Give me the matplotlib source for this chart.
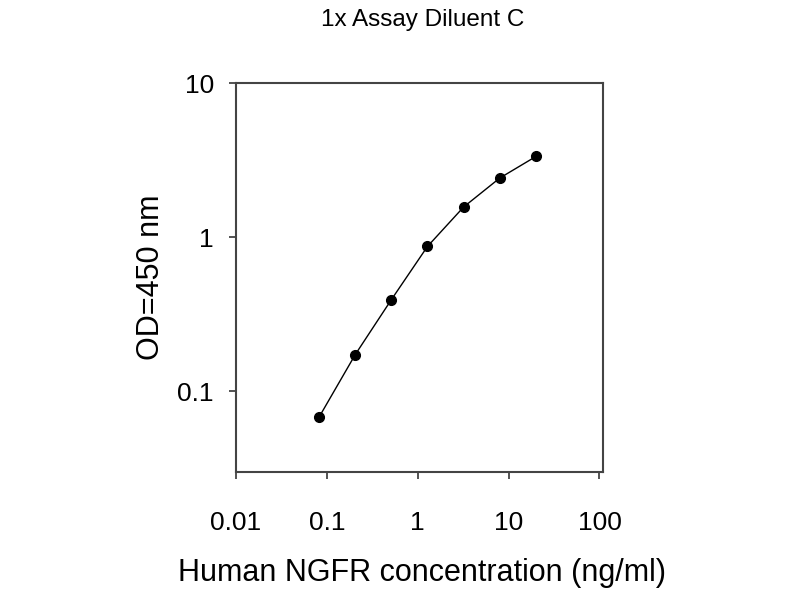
#!/usr/bin/env python3
"""Standard curve: OD450 vs human NGFR concentration, log-log."""

import matplotlib
matplotlib.use("Agg")
import matplotlib.pyplot as plt
from matplotlib.ticker import FixedLocator, FixedFormatter, NullLocator

plt.rcParams["font.family"] = ["Liberation Sans", "DejaVu Sans"]

# -----------------------------------------------------------------------------
# DATA
# -----------------------------------------------------------------------------
concentration = [0.082, 0.205, 0.512, 1.28, 3.2, 8.0, 20.0]   # ng/ml
od450 = [0.068, 0.173, 0.393, 0.871, 1.57, 2.42, 3.34]

x_ticks = [0.01, 0.1, 1, 10, 100]
x_tick_labels = ["0.01", "0.1", "1", "10", "100"]
y_ticks = [0.1, 1, 10]
y_tick_labels = ["0.1", "1", "10"]

TITLE = "1x Assay Diluent C"
X_LABEL = "Human NGFR concentration (ng/ml)"
Y_LABEL = "OD=450 nm"

SPINE_COLOR = "#444444"


def main() -> None:
    fig = plt.figure(figsize=(8, 6), dpi=100)
    ax = fig.add_axes([0.295, 0.2133, 0.459, 0.6483])

    ax.plot(concentration, od450, color="black", linewidth=1.0,
            marker="o", markersize=7, markerfacecolor="black",
            markeredgecolor="black")

    ax.set_xscale("log")
    ax.set_yscale("log")
    ax.set_xlim(0.01, 110)
    ax.set_ylim(0.03, 10)

    ax.xaxis.set_major_locator(FixedLocator(x_ticks))
    ax.xaxis.set_major_formatter(FixedFormatter(x_tick_labels))
    ax.yaxis.set_major_locator(FixedLocator(y_ticks))
    ax.yaxis.set_major_formatter(FixedFormatter(y_tick_labels))
    ax.xaxis.set_minor_locator(NullLocator())
    ax.yaxis.set_minor_locator(NullLocator())

    for spine in ax.spines.values():
        spine.set_color(SPINE_COLOR)
        spine.set_linewidth(1.5)

    ax.tick_params(axis="both", which="major", direction="out", length=5,
                   width=1.3, color=SPINE_COLOR, labelsize=19,
                   top=False, right=False)
    ax.tick_params(axis="x", pad=23)
    ax.tick_params(axis="y", pad=11)

    fig.text(0.528, 0.966, TITLE, ha="center", va="center", fontsize=17.5)
    fig.text(0.528, 0.045, X_LABEL, ha="center", va="center", fontsize=22)
    fig.text(0.189, 0.538, Y_LABEL, ha="center", va="center", fontsize=22,
             rotation=90)

    fig.savefig("out.png", dpi=100)
    plt.close(fig)


if __name__ == "__main__":
    main()
